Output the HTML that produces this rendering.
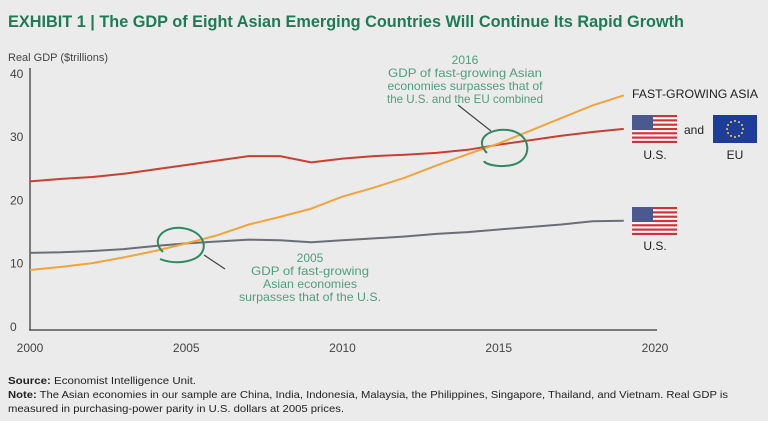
<!DOCTYPE html>
<html><head><meta charset="utf-8"><style>
html,body{margin:0;padding:0;background:#ebebeb;}
svg{display:block;font-family:"Liberation Sans",sans-serif;}
</style></head><body>
<svg width="768" height="421" viewBox="0 0 768 421">
<rect width="768" height="421" fill="#ebebeb"/>
<text x="8" y="27" font-size="16.5" font-weight="bold" fill="#1f7a57" textLength="676" lengthAdjust="spacingAndGlyphs">EXHIBIT 1 | The GDP of Eight Asian Emerging Countries Will Continue Its Rapid Growth</text>
<text x="8" y="61" font-size="11" fill="#444" textLength="100" lengthAdjust="spacingAndGlyphs">Real GDP ($trillions)</text>
<g id="axes"></g>
<g id="series"></g>
<g font-size="12" fill="#4f9e7e" text-anchor="middle">
<text x="465" y="64">2016</text>
<text x="465" y="77" textLength="154" lengthAdjust="spacingAndGlyphs">GDP of fast-growing Asian</text>
<text x="465" y="90" textLength="155" lengthAdjust="spacingAndGlyphs">economies surpasses that of</text>
<text x="465" y="103" textLength="156" lengthAdjust="spacingAndGlyphs">the U.S. and the EU combined</text>
</g>
<line x1="458" y1="105" x2="491" y2="131" stroke="#444" stroke-width="1.2"/>
<path d="M487,153 C474,140 488,128 508,130 C532,133 534,160 512,165 C498,168 485,164 484,161" fill="none" stroke="#2e8a60" stroke-width="2"/>
<g font-size="12" fill="#4f9e7e" text-anchor="middle">
<text x="310" y="262">2005</text>
<text x="310" y="275" textLength="118" lengthAdjust="spacingAndGlyphs">GDP of fast-growing</text>
<text x="310" y="288" textLength="94" lengthAdjust="spacingAndGlyphs">Asian economies</text>
<text x="310" y="301" textLength="142" lengthAdjust="spacingAndGlyphs">surpasses that of the U.S.</text>
</g>
<line x1="204" y1="255" x2="225" y2="269" stroke="#444" stroke-width="1.2"/>
<path d="M163,252 C150,240 163,226 182,228 C205,231 210,250 196,258 C184,264 170,263 160,259" fill="none" stroke="#2e8a60" stroke-width="2"/>
<text x="632" y="98" font-size="12" fill="#222" textLength="126" lengthAdjust="spacingAndGlyphs">FAST-GROWING ASIA</text>
<g id="flags"></g>
<text x="684" y="134" font-size="12" fill="#222">and</text>
<text x="655" y="159" font-size="12" fill="#222" text-anchor="middle">U.S.</text>
<text x="735" y="159" font-size="12" fill="#222" text-anchor="middle">EU</text>
<text x="655" y="250" font-size="12" fill="#222" text-anchor="middle">U.S.</text>
<g font-size="10.5" fill="#222">
<text x="8" y="384" textLength="188" lengthAdjust="spacingAndGlyphs"><tspan font-weight="bold">Source:</tspan> Economist Intelligence Unit.</text>
<text x="8" y="398" textLength="720" lengthAdjust="spacingAndGlyphs"><tspan font-weight="bold">Note:</tspan> The Asian economies in our sample are China, India, Indonesia, Malaysia, the Philippines, Singapore, Thailand, and Vietnam. Real GDP is</text>
<text x="8" y="412" textLength="336" lengthAdjust="spacingAndGlyphs">measured in purchasing-power parity in U.S. dollars at 2005 prices.</text>
</g>
</svg>
<script>
const years = [2000,2001,2002,2003,2004,2005,2006,2007,2008,2009,2010,2011,2012,2013,2014,2015,2016,2017,2018,2019];
const usEu = [23,23.4,23.7,24.2,24.9,25.6,26.3,27,27,26,26.6,27,27.2,27.5,28,28.8,29.5,30.2,30.8,31.3];
const asia = [9,9.5,10.1,11,12,13.2,14.5,16.2,17.4,18.7,20.6,22,23.6,25.5,27.3,29,31,33,35,36.6];
const us = [11.7,11.8,12,12.3,12.8,13.2,13.5,13.8,13.7,13.4,13.7,14,14.3,14.7,15,15.4,15.8,16.2,16.7,16.8];
const yTicks = [0,10,20,30,40];
const xTicks = [2000,2005,2010,2015,2020];
const NS='http://www.w3.org/2000/svg';
function xs(v){return 30+(v-2000)*31.25;}
function ys(v){return 327-v*6.33;}
function mk(tag,attrs,parent){const e=document.createElementNS(NS,tag);for(const k in attrs)e.setAttribute(k,attrs[k]);parent.appendChild(e);return e;}
const axes=document.getElementById('axes');
let a=mk('line',{x1:30,y1:68,x2:30,y2:330,stroke:'#555','stroke-width':1.5},axes);


a=mk('line',{x1:29,y1:330,x2:657,y2:330,stroke:'#555','stroke-width':1.5},axes);


yTicks.forEach(t=>{const e=mk('text',{x:10,y:ys(t)+4,'font-size':12,fill:'#444'},axes);e.textContent=t;

});
xTicks.forEach(t=>{const e=mk('text',{x:xs(t),y:352,'font-size':12,fill:'#444','text-anchor':'middle'},axes);e.textContent=t;

});
const ser=document.getElementById('series');
function line(vals,color,name){const d=vals.map((v,i)=>(i?'L':'M')+xs(years[i]).toFixed(1)+','+ys(v).toFixed(1)).join(' ');
const p=mk('path',{d:d,fill:'none',stroke:color,'stroke-width':2,'stroke-linejoin':'round'},ser);

}
line(us,'#6b6e76','line-us');
line(usEu,'#c8402f','line-us-eu');
line(asia,'#f2a43a','line-fast-growing-asia');
const fl=document.getElementById('flags');
function usFlag(x,y,name){const g=mk('g',{},fl);


mk('rect',{x:x,y:y,width:45,height:28,fill:'#fff'},g);
for(let i=0;i<7;i++)mk('rect',{x:x,y:y+i*4.3,width:45,height:2.2,fill:'#d0313a'},g);
mk('rect',{x:x,y:y,width:21,height:15,fill:'#4b5a8c'},g);}
usFlag(632,115,'us-flag-combined');
usFlag(632,207,'us-flag');
const eu=mk('g',{},fl);


mk('rect',{x:713,y:115,width:44,height:28,fill:'#1e3c99'},eu);
for(let i=0;i<12;i++){const an=i*Math.PI/6;mk('circle',{cx:735+8*Math.cos(an),cy:129+8*Math.sin(an),r:1,fill:'#f5d742'},eu);}
</script>
</body></html>
